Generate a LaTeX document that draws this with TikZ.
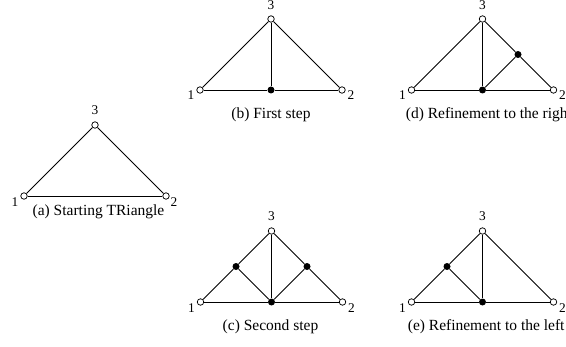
\documentclass[tikz,border=0pt]{standalone}
\usepackage{fontspec}
\setmainfont{Liberation Serif}

\tikzset{
  vtx/.style={circle, draw, fill=white, line width=0.45pt, inner sep=0pt, minimum size=3.9pt},
  middot/.style={circle, fill=black, inner sep=0pt, minimum size=4.2pt},
  num/.style={font=\fontsize{8}{9.5}\selectfont, inner sep=0pt},
  captxt/.style={font=\fontsize{9.3}{11}\selectfont, inner sep=0pt},
  seg/.style={line width=0.5pt}
}

\begin{document}
\begin{tikzpicture}[x=0.6pt, y=-0.6pt]

  \def\hb{71}   % half base
  \def\ht{71}   % height

  \useasboundingbox (0,0) rectangle (566,347);

  % ----------------------------------------------------------------
  % (a) starting triangle
  % ----------------------------------------------------------------
  \begin{scope}[shift={(95,196)}]
    \node[vtx] (a1) at (-\hb,0)  {};
    \node[vtx] (a2) at (\hb,0)   {};
    \node[vtx] (a3) at (0,-\ht)  {};
    \draw[seg] (a1) -- (a2);
    \draw[seg] (a2) -- (a3);
    \draw[seg] (a3) -- (a1);

    \node[num] (la1) at (-80,10)  {1};
    \node[num] (la2) at (79,10)   {2};
    \node[num] (la3) at (0,-81)   {3};
    \node[captxt] (ca) at (3.5,21) {(a) Starting TRiangle};
  \end{scope}

  % ----------------------------------------------------------------
  % (b) first step
  % ----------------------------------------------------------------
  \begin{scope}[shift={(271,90)}]
    \node[vtx] (b1) at (-\hb,0)  {};
    \node[vtx] (b2) at (\hb,0)   {};
    \node[vtx] (b3) at (0,-\ht)  {};
    \node[middot] (bm) at (0,0)  {};
    \draw[seg] (b1) -- (bm);
    \draw[seg] (bm) -- (b2);
    \draw[seg] (b2) -- (b3);
    \draw[seg] (b3) -- (b1);
    \draw[seg] (b3) -- (bm);

    \node[num] (lb1) at (-80,10)  {1};
    \node[num] (lb2) at (80,10)   {2};
    \node[num] (lb3) at (0,-80.5) {3};
    \node[captxt] (cb) at (0,30)  {(b) First step};
  \end{scope}

  % ----------------------------------------------------------------
  % (c) second step
  % ----------------------------------------------------------------
  \begin{scope}[shift={(271.5,302)}]
    \node[vtx] (c1) at (-\hb,0)  {};
    \node[vtx] (c2) at (\hb,0)   {};
    \node[vtx] (c3) at (0,-\ht)  {};
    \node[middot] (cm) at (0,0)  {};
    \node[middot] (cl) at ({-\hb/2},{-\ht/2}) {};
    \node[middot] (cr) at ({\hb/2},{-\ht/2})  {};
    \draw[seg] (c1) -- (cm);
    \draw[seg] (cm) -- (c2);
    \draw[seg] (c2) -- (cr);
    \draw[seg] (cr) -- (c3);
    \draw[seg] (c3) -- (cl);
    \draw[seg] (cl) -- (c1);
    \draw[seg] (c3) -- (cm);
    \draw[seg] (cl) -- (cm);
    \draw[seg] (cr) -- (cm);

    \node[num] (lc1) at (-80,10)  {1};
    \node[num] (lc2) at (80,10)   {2};
    \node[num] (lc3) at (0,-81)   {3};
    \node[captxt] (cc) at (-1,30) {(c) Second step};
  \end{scope}

  % ----------------------------------------------------------------
  % (d) refinement to the right
  % ----------------------------------------------------------------
  \begin{scope}[shift={(482.5,90)}]
    \node[vtx] (d1) at (-\hb,0)  {};
    \node[vtx] (d2) at (\hb,0)   {};
    \node[vtx] (d3) at (0,-\ht)  {};
    \node[middot] (dm) at (0,0)  {};
    \node[middot] (dr) at ({\hb/2},{-\ht/2}) {};
    \draw[seg] (d1) -- (dm);
    \draw[seg] (dm) -- (d2);
    \draw[seg] (d2) -- (dr);
    \draw[seg] (dr) -- (d3);
    \draw[seg] (d3) -- (d1);
    \draw[seg] (d3) -- (dm);
    \draw[seg] (dr) -- (dm);

    \node[num] (ld1) at (-80,10)  {1};
    \node[num] (ld2) at (80,10)   {2};
    \node[num] (ld3) at (0,-80.5) {3};
    \node[captxt, anchor=west] (cd) at (-77,30) {(d) Refinement to the right};
  \end{scope}

  % ----------------------------------------------------------------
  % (e) refinement to the left
  % ----------------------------------------------------------------
  \begin{scope}[shift={(482.5,302)}]
    \node[vtx] (e1) at (-\hb,0)  {};
    \node[vtx] (e2) at (\hb,0)   {};
    \node[vtx] (e3) at (0,-\ht)  {};
    \node[middot] (em) at (0,0)  {};
    \node[middot] (el) at ({-\hb/2},{-\ht/2}) {};
    \draw[seg] (e1) -- (em);
    \draw[seg] (em) -- (e2);
    \draw[seg] (e2) -- (e3);
    \draw[seg] (e3) -- (el);
    \draw[seg] (el) -- (e1);
    \draw[seg] (e3) -- (em);
    \draw[seg] (el) -- (em);

    \node[num] (le1) at (-80,10)  {1};
    \node[num] (le2) at (80,10)   {2};
    \node[num] (le3) at (0,-81)   {3};
    \node[captxt, anchor=west] (ce) at (-75,30) {(e) Refinement to the left};
  \end{scope}

\end{tikzpicture}
\end{document}
